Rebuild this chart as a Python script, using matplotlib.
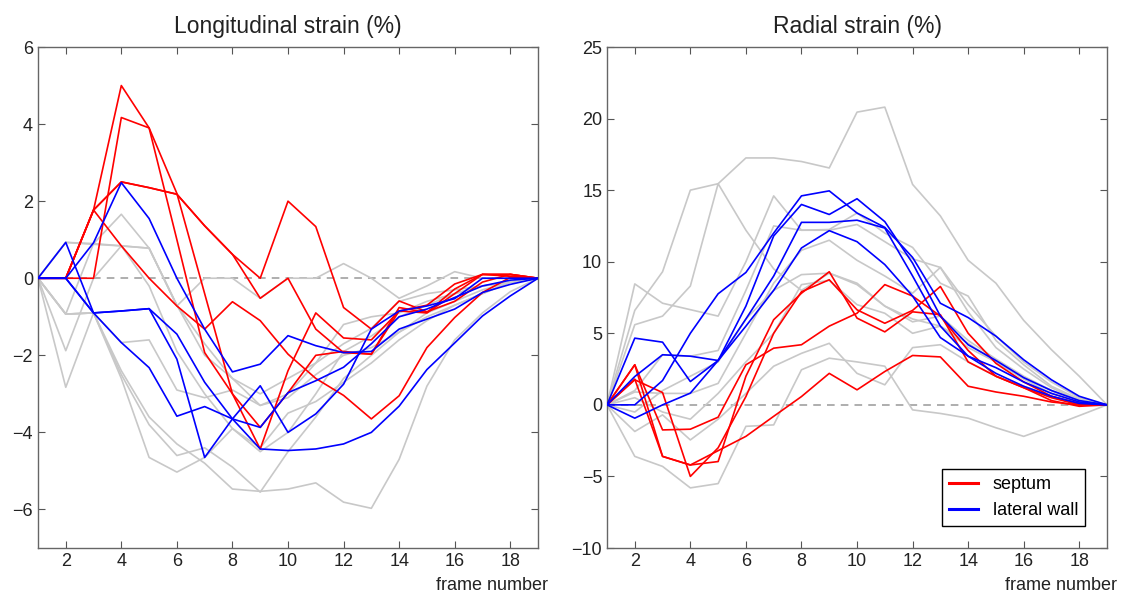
import numpy as np
import matplotlib
matplotlib.use('Agg')
import matplotlib.pyplot as plt

plt.rcParams['font.family'] = ['Liberation Sans', 'DejaVu Sans']

frames = np.arange(1, 20)

# longitudinal strain (%)
long_gray = [
    [0, 0.93, 0.88, 0.84, 0.78, -0.7, -1.7, -2.6, -3.0, -2.6, -2.2, -1.7, -1.3, -0.6, -0.4, -0.3, -0.2, -0.1, 0],
    [0, -0.93, 0.9, 1.66, 0.78, -0.7, -2.0, -2.6, -3.3, -3.0, -2.2, -1.2, -1.0, -0.9, -0.6, -0.4, -0.2, -0.1, 0],
    [0, -1.88, 0.0, 0.84, -0.2, -1.9, -3.0, -3.9, -4.4, -3.5, -3.2, -2.7, -2.2, -1.6, -1.1, -0.7, -0.4, -0.1, 0],
    [0, -2.83, -0.9, -2.5, -3.8, -4.6, -4.4, -4.9, -5.55, -4.5, -3.6, -2.6, -2.0, -1.4, -1.0, -0.7, -0.4, -0.1, 0],
    [0, -0.93, -0.9, -1.67, -1.6, -2.9, -3.1, -2.9, -3.3, -3.1, -2.5, -2.0, -1.8, -1.4, -0.9, -0.6, -0.3, -0.1, 0],
    [0, -0.93, -0.9, -2.6, -4.65, -5.03, -4.65, -3.9, -4.5, -4.0, -3.0, -1.9, -1.5, -1.0, -0.7, -0.4, -0.2, -0.1, 0],
    [0, -0.93, -0.9, -2.4, -3.6, -4.3, -4.8, -5.47, -5.53, -5.47, -5.31, -5.81, -5.97, -4.7, -2.8, -1.6, -0.9, -0.35, 0],
    [0, 0.93, 0.9, 0.84, 0.78, -0.72, 0, 0, -0.52, 0, 0, 0.38, 0, -0.52, -0.2, 0.17, 0, 0, 0],
]
long_septum = [
    [0, 0, 1.77, 5.0, 3.9, 1.0, -1.93, -3.0, -4.43, -2.4, -0.9, -1.55, -1.6, -0.85, -0.9, -0.4, 0.1, 0.1, 0],
    [0, 0, 0, 4.17, 3.9, 2.2, -0.4, -3.0, -3.87, -2.97, -2.0, -1.9, -1.97, -0.76, -0.89, -0.28, 0.1, 0.1, 0],
    [0, 0, 1.77, 2.5, 2.35, 2.18, 1.36, 0.62, 0, 2.0, 1.34, -0.76, -1.32, -0.59, -0.87, -0.6, -0.1, 0.1, 0],
    [0, 0, 1.77, 2.5, 2.35, 2.18, 1.36, 0.62, -0.52, 0, -1.32, -1.93, -1.97, -0.85, -0.7, -0.15, 0.1, 0.05, 0],
    [0, 0, 1.77, 0.84, 0.0, -0.72, -1.32, -0.61, -1.1, -1.97, -2.6, -3.04, -3.65, -3.05, -1.8, -1.02, -0.37, 0.02, 0],
]
long_lateral = [
    [0, 0.93, -0.9, -0.85, -0.79, -1.45, -2.7, -3.65, -4.43, -4.47, -4.43, -4.3, -4.0, -3.32, -2.37, -1.68, -0.98, -0.46, 0],
    [0, 0, -0.9, -1.67, -2.32, -3.58, -3.33, -3.65, -3.87, -2.97, -2.66, -2.31, -1.7, -1.0, -0.8, -0.5, -0.2, -0.05, 0],
    [0, 0, 0.92, 2.48, 1.55, 0, -1.32, -2.43, -2.23, -1.49, -1.75, -1.93, -1.9, -1.32, -1.06, -0.8, -0.37, -0.16, 0],
    [0, 0, -0.9, -0.85, -0.79, -2.1, -4.65, -3.65, -2.79, -4.0, -3.52, -2.75, -1.32, -0.85, -0.72, -0.53, 0, 0, 0],
]

# radial strain (%)
rad_gray = [
    [0, 6.6, 9.3, 15.0, 15.45, 17.25, 17.25, 17.0, 16.55, 20.45, 20.8, 15.4, 13.2, 10.1, 8.5, 5.9, 3.85, 2.0, 0],
    [0, 8.45, 7.1, 6.65, 6.2, 10.0, 14.6, 12.2, 12.2, 12.6, 11.4, 10.2, 9.6, 7.0, 4.8, 3.0, 1.6, 0.5, 0],
    [0, 5.6, 6.2, 8.3, 15.45, 12.2, 9.5, 8.0, 9.2, 8.5, 6.9, 6.0, 5.5, 4.3, 3.0, 1.8, 0.8, 0.2, 0],
    [0, 1.0, 3.5, 3.4, 3.8, 8.0, 12.5, 12.2, 12.25, 13.4, 12.0, 11.0, 8.5, 7.6, 4.5, 2.8, 1.3, 0.4, 0],
    [0, 0.9, 0.8, 0.8, 1.5, 5.0, 8.5, 10.8, 11.5, 10.1, 9.0, 7.8, 9.6, 6.5, 4.0, 2.5, 1.2, 0.3, 0],
    [0, -0.5, 1.0, 2.0, 3.0, 6.0, 8.0, 9.1, 9.2, 8.4, 6.9, 5.8, 6.2, 4.5, 3.2, 2.0, 1.0, 0.2, 0],
    [0, -1.86, -0.7, -2.45, -1.0, 0.8, 2.7, 3.6, 4.3, 2.2, 1.4, 4.0, 4.2, 3.0, 2.0, 1.3, 0.6, 0.1, 0],
    [0, -3.6, -4.3, -5.8, -5.5, -1.5, -1.4, 2.45, 3.26, 3.0, 2.7, -0.35, -0.6, -0.93, -1.6, -2.2, -1.5, -0.75, 0],
    [0, 0.5, -0.5, -1.0, 0.8, 3.0, 5.0, 8.4, 8.7, 7.0, 6.4, 5.0, 5.5, 4.0, 3.0, 1.9, 1.0, 0.3, 0],
]
rad_septum = [
    [0, 2.8, -1.75, -1.7, -0.86, 2.8, 3.96, 4.2, 5.5, 6.4, 8.4, 7.6, 6.2, 3.8, 2.0, 1.2, 0.5, 0.0, 0],
    [0, 1.75, 0.86, -5.0, -3.0, 0.58, 5.0, 7.9, 8.74, 6.64, 5.7, 6.6, 8.27, 5.0, 2.9, 1.6, 0.6, 0.1, 0],
    [0, 2.8, -3.6, -4.2, -3.96, 2.0, 5.95, 7.8, 9.3, 6.06, 5.1, 6.5, 6.3, 3.0, 2.0, 1.2, 0.3, -0.1, 0],
    [0, 1.8, -3.6, -4.2, -3.2, -2.2, -0.8, 0.58, 2.2, 1.05, 2.33, 3.45, 3.35, 1.3, 0.9, 0.6, 0.2, 0.0, 0],
]
rad_lateral = [
    [0, 0, 1.7, 5.0, 7.76, 9.25, 12.0, 14.6, 14.95, 13.4, 12.4, 10.3, 7.1, 6.1, 4.8, 3.15, 1.75, 0.6, 0],
    [0, 4.66, 4.38, 1.63, 3.1, 6.9, 11.8, 14.0, 13.3, 14.4, 12.8, 9.9, 6.2, 4.2, 3.1, 1.9, 1.0, 0.3, 0],
    [0, 1.98, 3.5, 3.4, 3.1, 6.0, 9.0, 12.75, 12.75, 12.9, 12.35, 9.0, 5.5, 3.4, 2.6, 1.6, 0.8, 0.2, 0],
    [0, -0.93, 0, 0.82, 3.1, 5.5, 8.0, 10.96, 12.17, 11.4, 9.8, 7.6, 4.7, 3.4, 2.2, 1.3, 0.6, 0.1, 0],
]

titles = ['Longitudinal strain (%)', 'Radial strain (%)']
ylims = [(-7, 6), (-10, 25)]
yticks = [np.arange(-6, 7, 2), np.arange(-10, 26, 5)]
xticks = np.arange(2, 19, 2)

gray = '#c8c8c8'
fig = plt.figure(figsize=(11.27, 5.98), dpi=100)
ax1 = fig.add_axes([0.0337, 0.0836, 0.4437, 0.8378])
ax2 = fig.add_axes([0.5386, 0.0836, 0.4437, 0.8378])

panels = [(ax1, long_gray, long_septum, long_lateral),
          (ax2, rad_gray, rad_septum, rad_lateral)]

for i, (ax, g, s, l) in enumerate(panels):
    ax.axhline(0, color='#999999', ls=(0, (5, 4)), lw=1.1, zorder=1)
    for row in g:
        ax.plot(frames, row, color=gray, lw=1.2, zorder=2)
    for row in s:
        ax.plot(frames, row, color='#ff0000', lw=1.2, zorder=3)
    for row in l:
        ax.plot(frames, row, color='#0000ff', lw=1.2, zorder=3)
    ax.set_xlim(1, 19)
    ax.set_ylim(*ylims[i])
    ax.set_xticks(xticks)
    ax.set_yticks(yticks[i])
    ax.tick_params(direction='in', top=True, right=True, length=5,
                   labelsize=13, color='#555555', labelcolor='#222222')
    for sp in ax.spines.values():
        sp.set_color('#666666')
        sp.set_linewidth(1.0)
    ax.set_title(titles[i], fontsize=16.5, pad=10, color='#222222')
    ax.text(1.02, -0.058, 'frame number', transform=ax.transAxes,
            ha='right', va='top', fontsize=13, color='#222222')

h1, = ax2.plot([], [], color='#ff0000', lw=2.2, label='septum')
h2, = ax2.plot([], [], color='#0000ff', lw=2.2, label='lateral wall')
leg = ax2.legend(handles=[h1, h2], loc='lower right', fontsize=13,
                 fancybox=False, framealpha=1, edgecolor='black',
                 handlelength=1.6, borderaxespad=1.2)
leg.get_frame().set_linewidth(1.0)

fig.savefig('out.png', dpi=100)
